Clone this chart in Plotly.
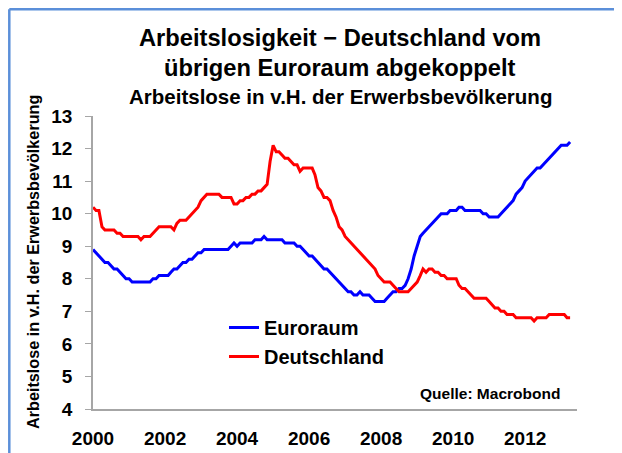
import pandas as pd
import plotly.graph_objects as go

# Monthly data, Jan 2000 - Apr 2013
dates = pd.date_range("2000-01-01", periods=160, freq="MS")

euroraum = [
    8.9, 8.8, 8.7, 8.6, 8.5, 8.5, 8.4, 8.3, 8.3, 8.2, 8.1, 8.0,      # 2000
    8.0, 7.9, 7.9, 7.9, 7.9, 7.9, 7.9, 7.9, 8.0, 8.0, 8.1, 8.1,      # 2001
    8.1, 8.1, 8.2, 8.3, 8.3, 8.4, 8.5, 8.5, 8.6, 8.6, 8.7, 8.8,      # 2002
    8.8, 8.9, 8.9, 8.9, 8.9, 8.9, 8.9, 8.9, 8.9, 8.9, 9.0, 9.1,      # 2003
    9.0, 9.1, 9.1, 9.1, 9.1, 9.1, 9.2, 9.2, 9.2, 9.3, 9.2, 9.2,      # 2004
    9.2, 9.2, 9.2, 9.2, 9.1, 9.1, 9.1, 9.1, 9.0, 9.0, 8.9, 8.8,      # 2005
    8.7, 8.7, 8.6, 8.5, 8.4, 8.3, 8.3, 8.2, 8.1, 8.0, 7.9, 7.8,      # 2006
    7.7, 7.6, 7.6, 7.5, 7.5, 7.6, 7.5, 7.5, 7.5, 7.4, 7.3, 7.3,      # 2007
    7.3, 7.3, 7.4, 7.5, 7.6, 7.6, 7.7, 7.7, 7.8, 8.0, 8.3, 8.7,      # 2008
    9.0, 9.3, 9.4, 9.5, 9.6, 9.7, 9.8, 9.9, 10.0, 10.0, 10.0, 10.1,  # 2009
    10.1, 10.1, 10.2, 10.2, 10.1, 10.1, 10.1, 10.1, 10.1, 10.1, 10.0, 10.0,  # 2010
    9.9, 9.9, 9.9, 9.9, 10.0, 10.1, 10.2, 10.3, 10.4, 10.6, 10.7, 10.8,      # 2011
    11.0, 11.1, 11.2, 11.3, 11.4, 11.4, 11.5, 11.6, 11.7, 11.8, 11.9, 12.0,  # 2012
    12.1, 12.1, 12.1, 12.2,                                                  # 2013
]

deutschland = [
    10.2, 10.1, 10.1, 9.6, 9.5, 9.5, 9.5, 9.5, 9.4, 9.4, 9.3, 9.3,   # 2000
    9.3, 9.3, 9.3, 9.3, 9.2, 9.3, 9.3, 9.3, 9.4, 9.5, 9.6, 9.6,      # 2001
    9.6, 9.6, 9.6, 9.5, 9.7, 9.8, 9.8, 9.8, 9.9, 10.0, 10.1, 10.2,   # 2002
    10.4, 10.5, 10.6, 10.6, 10.6, 10.6, 10.6, 10.5, 10.5, 10.5, 10.5, 10.3,  # 2003
    10.3, 10.4, 10.4, 10.5, 10.5, 10.6, 10.6, 10.7, 10.7, 10.8, 10.9, 11.6,  # 2004
    12.1, 11.9, 11.9, 11.8, 11.7, 11.7, 11.6, 11.5, 11.5, 11.3, 11.4, 11.4,  # 2005
    11.4, 11.4, 11.2, 10.8, 10.7, 10.5, 10.5, 10.4, 10.1, 9.9, 9.6, 9.5,     # 2006
    9.3, 9.2, 9.1, 9.0, 8.9, 8.8, 8.7, 8.6, 8.5, 8.4, 8.3, 8.1,      # 2007
    8.0, 7.9, 7.9, 7.9, 7.8, 7.7, 7.6, 7.6, 7.6, 7.6, 7.7, 7.8,      # 2008
    7.9, 8.1, 8.3, 8.2, 8.3, 8.3, 8.2, 8.2, 8.1, 8.1, 8.0, 8.0,      # 2009
    8.0, 8.0, 7.8, 7.7, 7.7, 7.6, 7.5, 7.4, 7.4, 7.4, 7.4, 7.4,      # 2010
    7.3, 7.2, 7.1, 7.1, 7.0, 7.0, 6.9, 6.9, 6.9, 6.8, 6.8, 6.8,      # 2011
    6.8, 6.8, 6.8, 6.7, 6.8, 6.8, 6.8, 6.8, 6.9, 6.9, 6.9, 6.9,      # 2012
    6.9, 6.9, 6.8, 6.8,                                              # 2013
]

tick_years = [2000, 2002, 2004, 2006, 2008, 2010, 2012]

title_lines = ["Arbeitslosigkeit \u2212 Deutschland vom", "übrigen Euroraum abgekoppelt"]
subtitle = "Arbeitslose in v.H. der Erwerbsbevölkerung"
y_title = "Arbeitslose in v.H. der Erwerbsbevölkerung"
source = "Quelle: Macrobond"

FONT = "Liberation Sans, Arial, sans-serif"

fig = go.Figure()
fig.add_trace(go.Scatter(x=dates, y=euroraum, mode="lines", name="Euroraum",
                         line=dict(color="#0000ff", width=3)))
fig.add_trace(go.Scatter(x=dates, y=deutschland, mode="lines", name="Deutschland",
                         line=dict(color="#ff0000", width=3)))

# page body has an 8px default margin; layout is set in window pixels
OFF = 8
W, H = 622 - OFF, 453 - OFF                 # figure fits the window without scrolling
PL, PT, PR, PB = 93, 116, 577, 409          # plot-area edges in window pixels
L, T = PL - OFF, PT - OFF
pw, ph = PR - PL, PB - PT
R, B = W - L - pw, H - T - ph

def px(x):
    return (x - PL) / pw

def py(y):
    return (PB - y) / ph

fig.update_layout(
    width=W, height=H,
    margin=dict(l=L, r=R, t=T, b=B, autoexpand=False),
    paper_bgcolor="white", plot_bgcolor="white",
    font=dict(family=FONT, color="black"),
    showlegend=True,
    legend=dict(x=px(224), y=py(308), xanchor="left", yanchor="top",
                bgcolor="rgba(0,0,0,0)", font=dict(size=20, family=FONT, weight="bold"),
                itemwidth=30, tracegroupgap=0),
    xaxis=dict(
        range=["2000-01-01", "2013-06-10"],
        tickvals=[f"{y}-01-01" for y in tick_years],
        ticktext=[str(y) for y in tick_years],
        showgrid=False, zeroline=False, automargin=False,
        showline=True, linecolor="#a6a6a6", linewidth=1.5,
        ticks="", tickfont=dict(size=19, family=FONT, weight="bold"),
        ticklabelstandoff=11,
    ),
    yaxis=dict(
        range=[4, 13], dtick=1, automargin=False,
        showgrid=False, zeroline=False,
        showline=True, linecolor="#a6a6a6", linewidth=1.5,
        ticks="outside", ticklen=6, tickcolor="#a6a6a6", tickwidth=1,
        tickfont=dict(size=19, family=FONT, weight="bold"),
        ticklabelstandoff=9,
    ),
)

annotations = [
    dict(text=title_lines[0], x=px(340), y=py(38), font=dict(size=23.7, weight="bold")),
    dict(text=title_lines[1], x=px(340), y=py(68), font=dict(size=23.7, weight="bold")),
    dict(text=subtitle, x=px(340), y=py(97), font=dict(size=20.5, weight="bold")),
    dict(text=y_title, x=px(33), y=py(262), textangle=-90, font=dict(size=16.2, weight="bold")),
    dict(text=source, x=px(562), y=py(393), xanchor="right", font=dict(size=15.5, weight="bold")),
]
for a in annotations:
    a.setdefault("xanchor", "center")
    a.update(xref="paper", yref="paper", yanchor="middle", showarrow=False)
    a["font"]["family"] = FONT
    a["font"]["color"] = "black"
fig.update_layout(annotations=annotations)

# light-blue frame: only its top and left edges are inside the picture
frame = dict(color="#5b8fd9", width=2.5)
edge = OFF + 1.3
fig.add_shape(type="line", xref="paper", yref="paper",
              x0=px(edge), x1=px(640), y0=py(edge), y1=py(edge), line=frame, layer="below")
fig.add_shape(type="line", xref="paper", yref="paper",
              x0=px(edge), x1=px(edge), y0=py(edge), y1=py(470), line=frame, layer="below")

fig.write_html("out.html")
